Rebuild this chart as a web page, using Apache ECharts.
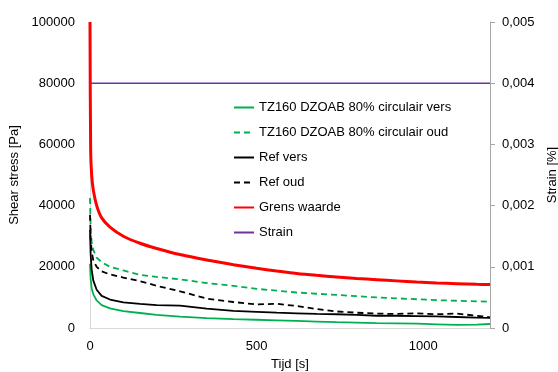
<!DOCTYPE html>
<html>
<head>
<meta charset="utf-8">
<script src="https://cdn.jsdelivr.net/npm/echarts@6/dist/echarts.min.js"></script>
<style>
  html, body { margin: 0; padding: 0; background: #fff; }
  #chart { width: 558px; height: 372px; }
</style>
</head>
<body>
<div id="chart"></div>
<script>
// time samples [s]
const tijd = [0, 2, 5, 10, 20, 35, 60, 100, 150, 200, 270, 350, 430, 500, 560, 620, 680, 740, 800, 860, 920, 980, 1040, 1100, 1160, 1200]

// shear stress [Pa]
const tzVers = [21000, 16000, 13000, 11000, 9000, 7500, 6400, 5500, 4900, 4300, 3700, 3200, 2900, 2700, 2500, 2300, 2100, 1900, 1750, 1600, 1500, 1400, 1200, 1000, 1100, 1300]
const tzOud = [42500, 33000, 28000, 25500, 23000, 21500, 20000, 18800, 17400, 16700, 15900, 14700, 13800, 12800, 12200, 11600, 11200, 10800, 10400, 10000, 9700, 9400, 9100, 8900, 8700, 8600]
const refVers = [32000, 24000, 19000, 15500, 12500, 10500, 9300, 8400, 7900, 7500, 7300, 6300, 5600, 5300, 5000, 4800, 4600, 4500, 4300, 4000, 4000, 3900, 3800, 3600, 3400, 3300]
const refOud = [37000, 29000, 25000, 22000, 20000, 18500, 17500, 16500, 15300, 13800, 12000, 9600, 8500, 7700, 7900, 7200, 6200, 5400, 5000, 4700, 4600, 4800, 4500, 4700, 4000, 3500]
const grens = [100000, 58000, 50000, 45000, 40000, 36000, 33000, 30000, 27700, 26000, 24000, 22200, 20700, 19500, 18600, 17800, 17200, 16700, 16200, 15800, 15400, 15000, 14700, 14500, 14300, 14200]
// strain [%]
const strainTijd = [0, 1200]
const strain = [0.004, 0.004]

const pairs = (xs, ys) => xs.map((x, i) => [x, ys[i]])

const chart = echarts.init(document.getElementById('chart'))
const font = 'Liberation Sans'
const option = {
  animation: false,
  textStyle: { fontFamily: font },
  grid: {
    left: 90,
    right: 68,
    top: 22,
    bottom: 44,
    containLabel: false,
    outerBoundsMode: 'none',
  },
  legend: {
    orient: 'vertical',
    left: 228,
    top: 96,
    itemGap: 12,
    itemWidth: 20,
    itemHeight: 13,
    itemStyle: { opacity: 0 },
    textStyle: { fontFamily: font, fontSize: 13, color: '#000' },
    data: ['TZ160 DZOAB 80% circulair vers', 'TZ160 DZOAB 80% circulair oud', 'Ref vers', 'Ref oud', 'Grens waarde', 'Strain'],
  },
  xAxis: {
    type: 'value',
    min: 0,
    max: 1200,
    interval: 500,
    name: 'Tijd [s]',
    nameLocation: 'middle',
    nameGap: 30,
    nameTextStyle: { fontFamily: font, fontSize: 13, color: '#000' },
    axisLine: { lineStyle: { color: '#d9d9d9' } },
    axisTick: { show: false },
    splitLine: { show: false },
    axisLabel: { fontFamily: font, fontSize: 13, color: '#000', margin: 12, showMaxLabel: false, formatter: (v) => String(v) },
  },
  yAxis: [
    {
      type: 'value',
      min: 0,
      max: 100000,
      interval: 20000,
      name: 'Shear stress [Pa]',
      nameLocation: 'middle',
      nameRotate: 90,
      nameGap: 63,
      nameTextStyle: { fontFamily: font, fontSize: 13, color: '#000' },
      axisLine: { show: true, lineStyle: { color: '#d9d9d9' } },
      axisTick: { show: false },
      splitLine: { show: false },
      axisLabel: { fontFamily: font, fontSize: 13, color: '#000', margin: 15, formatter: (v) => String(v) },
    },
    {
      type: 'value',
      position: 'right',
      min: 0,
      max: 0.005,
      interval: 0.001,
      name: 'Strain [%]',
      nameLocation: 'middle',
      nameRotate: 90,
      nameGap: 50,
      nameTextStyle: { fontFamily: font, fontSize: 13, color: '#000' },
      axisLine: { show: true, lineStyle: { color: '#a6a6a6' } },
      axisTick: { show: true, inside: false, length: 5, lineStyle: { color: '#a6a6a6' } },
      splitLine: { show: false },
      axisLabel: {
        fontFamily: font,
        fontSize: 13,
        color: '#000',
        margin: 12,
        formatter: (v) => (v === 0 ? '0' : v.toFixed(3).replace('.', ',')),
      },
    },
  ],
  series: [
    {
      name: 'TZ160 DZOAB 80% circulair vers',
      type: 'line',
      symbol: 'none',
      color: '#00b050',
      lineStyle: { color: '#00b050', width: 1.8 },
      data: pairs(tijd, tzVers),
    },
    {
      name: 'TZ160 DZOAB 80% circulair oud',
      type: 'line',
      symbol: 'none',
      color: '#00b050',
      lineStyle: { color: '#00b050', width: 1.8, type: [6, 4] },
      data: pairs(tijd, tzOud),
    },
    {
      name: 'Ref vers',
      type: 'line',
      symbol: 'none',
      color: '#000',
      lineStyle: { color: '#000', width: 1.8 },
      data: pairs(tijd, refVers),
    },
    {
      name: 'Ref oud',
      type: 'line',
      symbol: 'none',
      color: '#000',
      lineStyle: { color: '#000', width: 1.8, type: [6, 4] },
      data: pairs(tijd, refOud),
    },
    {
      name: 'Grens waarde',
      type: 'line',
      symbol: 'none',
      smooth: 0.3,
      color: '#ff0000',
      lineStyle: { color: '#ff0000', width: 3 },
      data: pairs(tijd, grens),
    },
    {
      name: 'Strain',
      type: 'line',
      yAxisIndex: 1,
      symbol: 'none',
      color: '#7030a0',
      lineStyle: { color: '#7030a0', width: 1.5 },
      data: pairs(strainTijd, strain),
    },
  ],
}
chart.setOption(option)
</script>
</body>
</html>
